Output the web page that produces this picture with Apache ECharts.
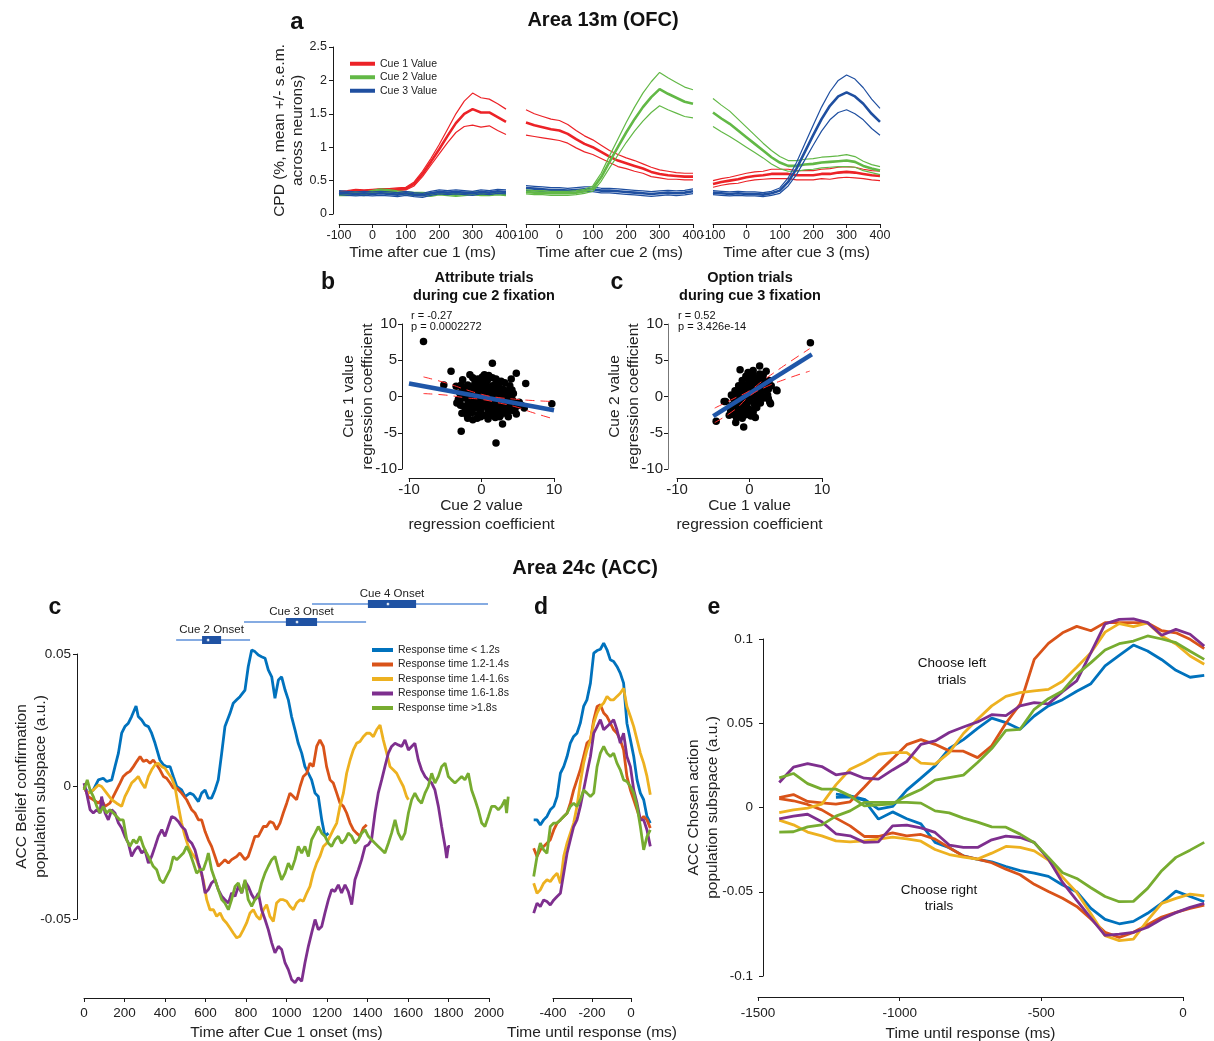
<!DOCTYPE html>
<html><head><meta charset="utf-8">
<script src="https://cdn.jsdelivr.net/npm/echarts@6/dist/echarts.min.js"></script>
<style>html,body{margin:0;padding:0;background:#fff}#chart{width:1214px;height:1041px}</style>
</head><body><div id="chart"></div>
<script>
// ---------------- DATA ----------------
// Panel a: CPD time courses (mean and s.e.m.), time after cue (ms)
const tA = [-100,-75,-50,-25,0,25,50,75,100,125,150,175,200,225,250,275,300,325,350,375,400];
const aXNames = ['Time after cue 1 (ms)','Time after cue 2 (ms)','Time after cue 3 (ms)'];
const cueNamesA = ['Cue 1 Value','Cue 2 Value','Cue 3 Value'];
// subplot 1
const c1m_1 = [0.32,0.33,0.35,0.34,0.35,0.36,0.36,0.37,0.38,0.45,0.60,0.78,0.97,1.17,1.36,1.50,1.57,1.52,1.52,1.45,1.38];
const c1s_1 = [0.02,0.02,0.02,0.02,0.02,0.02,0.02,0.02,0.02,0.03,0.04,0.05,0.07,0.10,0.14,0.19,0.24,0.22,0.20,0.20,0.19];
const c2m_1 = [0.30,0.30,0.31,0.30,0.33,0.35,0.34,0.32,0.31,0.30,0.30,0.29,0.31,0.30,0.29,0.30,0.31,0.30,0.30,0.31,0.30];
const c2s_1 = [0.025,0.025,0.025,0.025,0.025,0.025,0.025,0.025,0.025,0.025,0.025,0.025,0.025,0.025,0.025,0.025,0.025,0.025,0.025,0.025,0.025];
const c3m_1 = [0.32,0.31,0.30,0.31,0.30,0.31,0.30,0.29,0.31,0.29,0.28,0.31,0.33,0.32,0.33,0.32,0.31,0.33,0.32,0.34,0.33];
const c3s_1 = [0.03,0.03,0.03,0.03,0.03,0.03,0.03,0.03,0.03,0.03,0.03,0.03,0.03,0.03,0.03,0.03,0.03,0.03,0.03,0.03,0.03];
// subplot 2
const c1m_2 = [1.37,1.33,1.30,1.27,1.25,1.20,1.12,1.05,1.00,0.93,0.86,0.80,0.76,0.72,0.68,0.63,0.60,0.58,0.57,0.56,0.56];
const c1s_2 = [0.19,0.17,0.16,0.15,0.15,0.14,0.13,0.12,0.11,0.10,0.09,0.09,0.08,0.08,0.07,0.07,0.06,0.06,0.05,0.05,0.05];
const c2m_2 = [0.33,0.32,0.32,0.31,0.31,0.31,0.32,0.34,0.38,0.55,0.78,1.00,1.22,1.42,1.60,1.75,1.87,1.80,1.74,1.68,1.65];
const c2s_2 = [0.03,0.03,0.03,0.03,0.03,0.03,0.03,0.03,0.04,0.06,0.09,0.12,0.15,0.18,0.21,0.23,0.25,0.24,0.23,0.22,0.21];
const c3m_2 = [0.39,0.38,0.37,0.36,0.36,0.35,0.36,0.37,0.37,0.35,0.35,0.34,0.33,0.32,0.31,0.30,0.31,0.32,0.31,0.32,0.34];
const c3s_2 = [0.035,0.035,0.035,0.035,0.035,0.035,0.035,0.035,0.035,0.035,0.035,0.035,0.035,0.035,0.035,0.035,0.035,0.035,0.035,0.035,0.035];
// subplot 3
const c1m_3 = [0.45,0.48,0.50,0.52,0.55,0.57,0.58,0.60,0.60,0.60,0.58,0.58,0.58,0.60,0.60,0.62,0.63,0.62,0.60,0.58,0.57];
const c1s_3 = [0.05,0.05,0.05,0.06,0.06,0.06,0.06,0.07,0.07,0.07,0.07,0.07,0.07,0.07,0.08,0.08,0.08,0.08,0.07,0.07,0.07];
const c2m_3 = [1.52,1.43,1.35,1.25,1.15,1.05,0.95,0.85,0.77,0.72,0.72,0.74,0.75,0.77,0.78,0.79,0.80,0.78,0.72,0.68,0.65];
const c2s_3 = [0.21,0.20,0.19,0.17,0.15,0.13,0.11,0.10,0.09,0.08,0.08,0.08,0.08,0.08,0.08,0.08,0.09,0.08,0.07,0.06,0.06];
const c3m_3 = [0.32,0.31,0.30,0.31,0.30,0.30,0.29,0.31,0.35,0.48,0.68,0.93,1.18,1.42,1.62,1.76,1.82,1.76,1.65,1.50,1.38];
const c3s_3 = [0.03,0.03,0.03,0.03,0.03,0.03,0.03,0.03,0.04,0.06,0.09,0.12,0.15,0.18,0.21,0.24,0.26,0.26,0.24,0.22,0.20];

// Panel b: attribute trials scatter [cue2 coef, cue1 coef]
const bPoints = [[-8,7.6],[1.5,4.6],[-4.2,3.5],[-1.6,3.0],[4.8,3.2],[-5.2,1.6],[-2.6,2.3],[4.1,2.4],[6.1,1.8],[2.7,2.1],[9.7,-1.0],[-2.8,-4.8],[2.0,-6.4],[-1.9,-3.0],[-1.2,-3.2],[2.9,-3.8],[3.7,-2.8],[4.8,-2.4],[2.5,-2.8],[5.9,-1.6],
[-3,0.5],[-3.2,-0.4],[-2.9,-1.2],[-2.6,1.0],[-2.4,-0.2],[-2.2,-1.8],[-2.1,0.6],[-1.9,1.6],[-1.8,-0.8],[-1.6,0.2],[-1.5,-1.4],[-1.4,1.1],[-1.3,-2.2],[-1.1,0.7],[-1.0,-0.5],[-0.9,1.9],[-0.8,-1.6],[-0.7,0.3],[-0.5,2.4],[-0.5,-2.5],[-0.4,1.2],[-0.3,-0.9],[-0.2,0.6],[-0.1,-1.9],[0,1.8],[0,-0.2],[0.1,2.7],[0.2,-1.2],[0.3,0.9],[0.4,-2.6],[0.5,0.1],[0.6,1.6],[0.7,-0.7],[0.8,2.2],[0.9,-1.8],[1.0,0.5],[1.1,-0.3],[1.2,1.3],[1.3,-2.2],[1.4,0.2],[1.5,2.6],[1.6,-1.1],[1.7,0.9],[1.8,-0.5],[1.9,1.7],[2.0,-1.6],[2.1,0.3],[2.2,-2.4],[2.3,1.2],[2.4,-0.9],[2.6,0.6],[2.7,-1.8],[2.8,-0.2],[3.0,1.0],[3.1,-1.2],[3.3,0.2],[3.4,-2.1],[3.5,-0.6],[3.7,0.8],[3.8,-1.4],[4.0,-0.3],[4.2,-1.9],[4.4,0.4],[4.5,-1.0],[-2.0,-2.6],[-0.6,-3.0],[0.9,-3.1],[1.9,-2.9],[-1.2,2.6],[-3.5,1.4],[-2.7,-2.3],[3.2,1.9],[0.4,3.0],[-0.2,0.0],[0.6,-0.4],[1.3,0.8],[-1.0,1.5],[2.0,0.9],[0.2,1.3],[-0.6,-1.1],[1.7,-1.9],[2.6,-2.6],[3.6,-2.5],[4.2,0.9],[-3.4,-0.9],[5.2,-0.8],[4.9,-1.3],[3.9,1.5],[-0.1,-2.8],[1.1,-2.7],
[-2.8,1.6],[-2.3,0.1],[-1.7,-2.0],[-1.2,-0.9],[-0.9,0.2],[-0.4,-1.5],[0.1,0.4],[0.3,-0.6],[0.7,1.1],[0.9,-1.2],[1.2,-0.7],[1.5,1.5],[1.8,0.3],[2.1,-1.1],[2.4,1.8],[2.9,0.4],[3.2,-0.5],[3.6,0.3],[3.9,-0.9],[4.3,-0.5],[-0.3,2.0],[0.5,2.0],[1.0,2.9],[2.0,2.4],[-1.7,1.0],[-2.5,-1.3],[-1.4,-1.0],[0.0,-1.5],[1.5,-1.6],[3.0,-1.8],[-3.0,-0.5],[4.6,-2.0],[5.5,-1.2],[-1.9,0.0]];
const bFit = [[-10,1.8],[10,-1.9]];
const bCiUp = [[-8,2.7],[-5,1.9],[-2,0.9],[0,0.3],[2,-0.1],[5,-0.4],[7,-0.55],[10,-0.7]];
const bCiLo = [[-8,0.4],[-5,0.2],[-2,-0.2],[0,-0.4],[2,-0.8],[5,-1.5],[7,-2.2],[10,-3.1]];
// Panel c (top): option trials scatter [cue1 coef, cue2 coef]
const cPoints = [[8.4,7.4],[-4.6,-3.4],[-0.8,-4.2],[0.8,-2.9],[-1.8,-2.9],[-1.3,3.7],[1.4,4.2],[2.3,3.5],[3.7,0.9],[-3.5,-0.7],[2.8,-0.8],[-1.9,-3.6],[-3.3,-0.7],[3.8,0.8],[2.9,-1.0],
[-2.6,-2.0],[-2.4,-1.2],[-2.2,-0.3],[-2.0,0.8],[-1.9,-1.8],[-1.7,-0.8],[-1.6,0.3],[-1.5,1.5],[-1.4,-2.3],[-1.3,-1.3],[-1.2,-0.2],[-1.1,0.9],[-1.0,2.2],[-0.9,-1.7],[-0.8,-0.6],[-0.7,0.5],[-0.6,1.6],[-0.5,2.8],[-0.5,-2.5],[-0.4,-1.1],[-0.3,0.1],[-0.2,1.1],[-0.1,2.3],[0,-1.8],[0.1,-0.5],[0.2,0.6],[0.3,1.7],[0.4,3.0],[0.5,-2.2],[0.6,-1.0],[0.7,0.2],[0.8,1.3],[0.9,2.5],[1.0,-1.5],[1.1,-0.3],[1.2,0.8],[1.3,1.9],[1.4,3.1],[1.5,-0.9],[1.6,0.3],[1.7,1.4],[1.8,2.5],[2.0,-0.2],[2.1,0.9],[2.2,2.0],[2.4,1.2],[2.5,0.2],[2.7,2.2],[3.0,1.5],[-2.8,-2.6],[-2.1,-2.5],[-1.0,-3.0],[0.2,-2.7],[0.5,3.6],[-0.2,3.3],[1.9,3.0],[-2.5,0.2],[-0.7,-0.1],[0.0,0.9],[0.9,0.0],[-1.5,-0.5],[1.3,-0.6],[2.6,-0.3],
[-2.0,-1.2],[-1.6,-1.5],[-1.0,-0.8],[-0.4,0.4],[0.3,0.0],[0.6,0.9],[1.0,1.8],[1.5,2.0],[1.9,1.0],[2.3,1.6],[-0.9,1.2],[-1.8,0.1],[-0.2,-0.5],[0.8,-1.6],[1.2,0.2],[-1.2,-2.6],[-2.3,-2.2],[0.4,2.3],[-0.6,-1.9],[2.6,1.0]];
const cFit = [[-5,-2.7],[8.6,5.8]];
const cCiUp = [[-4.8,-1.6],[-2,-0.2],[0,0.8],[2,2.3],[5,4.4],[8.3,6.6]];
const cCiLo = [[-4.8,-3.6],[-2,-1.8],[0,0.05],[2,1.2],[5,2.4],[8.3,3.5]];

// Panel c (bottom): cue onset distributions (ms)
const onsetNames = ['Cue 2 Onset','Cue 3 Onset','Cue 4 Onset'];
const onsetMin = [455, 790, 1126];
const onsetQ1  = [583, 997, 1402];
const onsetMed = [613, 1052, 1501];
const onsetQ3  = [677, 1151, 1640];
const onsetMax = [820, 1393, 1995];
const onsetRow = [0.5, 1.5, 2.5];

const rtNames = ['Response time < 1.2s','Response time 1.2-1.4s','Response time 1.4-1.6s','Response time 1.6-1.8s','Response time >1.8s'];
const rtColors = ['#0072BD','#D95319','#EDB120','#7E2F8E','#77AC30'];

// Panel c (bottom): belief confirmation, [ms after cue 1, value]
const cBlue = [[0,0],[21,-0.0025],[46,-0.0013],[71,0.0025],[95,0.0031],[112,0.0019],[137,0.0025],[153,0.0075],[170,0.0126],[186,0.0201],[202,0.0226],[219,0.0239],[235,0.0264],[257,0.0304],[268,0.0264],[285,0.0251],[301,0.0232],[318,0.0226],[334,0.0201],[351,0.0163],[375,0.0100],[392,0.0082],[408,0.0075],[425,0.0075],[441,0.0038],[458,0],[482,-0.0013],[499,-0.0038],[523,-0.0025],[540,-0.0031],[565,-0.0057],[581,-0.0025],[598,-0.0013],[614,-0.0044],[630,-0.0044],[647,-0.0013],[663,0.0025],[680,0.0126],[696,0.0226],[721,0.0276],[737,0.0314],[754,0.0327],[770,0.0339],[795,0.0364],[811,0.0452],[828,0.0515],[844,0.0509],[861,0.0496],[877,0.0490],[894,0.0484],[910,0.0440],[927,0.0414],[943,0.0333],[960,0.0402],[976,0.0414],[993,0.0364],[1009,0.0327],[1025,0.0264],[1042,0.0214],[1058,0.0163],[1075,0.0126],[1091,0.0075],[1108,0.0050],[1124,0.0025],[1141,-0.0025],[1157,-0.0038],[1174,-0.0126],[1190,-0.0188],[1207,-0.0176]];
const cOrange = [[0,0],[21,-0.0038],[46,-0.0050],[71,-0.0063],[87,-0.0050],[104,-0.0075],[128,-0.0063],[153,-0.0025],[178,0.0013],[194,0.0038],[211,0.0050],[227,0.0057],[244,0.0075],[260,0.0094],[277,0.0113],[293,0.0094],[309,0.0100],[326,0.0088],[342,0.0100],[359,0.0082],[375,0.0063],[392,0.0038],[408,0.0031],[425,0.0013],[441,-0.0006],[458,-0.0006],[482,-0.0025],[507,-0.0050],[532,-0.0088],[548,-0.0100],[565,-0.0126],[581,-0.0126],[598,-0.0170],[614,-0.0201],[630,-0.0226],[647,-0.0264],[663,-0.0301],[680,-0.0289],[696,-0.0276],[713,-0.0289],[729,-0.0276],[754,-0.0264],[770,-0.0251],[795,-0.0276],[811,-0.0264],[828,-0.0226],[844,-0.0188],[861,-0.0188],[886,-0.0151],[902,-0.0151],[918,-0.0132],[935,-0.0138],[951,-0.0163],[968,-0.0138],[984,-0.0100],[1001,-0.0063],[1017,-0.0025],[1034,-0.0038],[1050,-0.0050],[1067,0],[1083,0.0038],[1100,0.0050],[1116,0.0088],[1132,0.0075],[1149,0.0151],[1165,0.0176],[1182,0.0151],[1198,0.0075],[1215,0.0025],[1231,0.0013],[1248,-0.0025],[1264,-0.0063],[1281,-0.0075],[1297,-0.0100],[1314,-0.0138],[1330,-0.0163],[1346,-0.0176],[1363,-0.0188],[1379,-0.0157],[1396,-0.0144]];
const cYellow = [[0,-0.0006],[21,-0.0025],[46,-0.0013],[71,0.0006],[87,0],[112,-0.0025],[137,-0.0050],[161,-0.0063],[186,-0.0075],[202,-0.0038],[219,-0.0013],[235,0.0013],[252,0.0025],[268,0.0038],[285,0.0013],[301,-0.0006],[318,0.0038],[334,0.0063],[351,0.0082],[367,0.0088],[384,0.0075],[400,0.0069],[416,0.0050],[433,0.0031],[449,0],[466,-0.0075],[482,-0.0138],[499,-0.0188],[515,-0.0226],[532,-0.0251],[556,-0.0276],[573,-0.0314],[589,-0.0352],[606,-0.0427],[622,-0.0465],[639,-0.0465],[655,-0.0490],[672,-0.0477],[688,-0.0502],[704,-0.0515],[721,-0.0534],[737,-0.0553],[754,-0.0571],[770,-0.0565],[787,-0.0540],[803,-0.0515],[820,-0.0477],[836,-0.0465],[853,-0.0490],[869,-0.0502],[886,-0.0465],[902,-0.0446],[918,-0.0490],[935,-0.0509],[951,-0.0440],[968,-0.0427],[984,-0.0427],[1001,-0.0433],[1017,-0.0452],[1034,-0.0465],[1050,-0.0440],[1067,-0.0427],[1083,-0.0433],[1100,-0.0402],[1116,-0.0377],[1132,-0.0327],[1149,-0.0289],[1165,-0.0264],[1182,-0.0226],[1198,-0.0214],[1215,-0.0188],[1231,-0.0163],[1248,-0.0138],[1264,-0.0075],[1281,-0.0025],[1297,0.0050],[1314,0.0100],[1330,0.0138],[1346,0.0163],[1363,0.0170],[1379,0.0188],[1396,0.0201],[1412,0.0201],[1429,0.0188],[1445,0.0214],[1462,0.0232],[1478,0.0176],[1495,0.0126],[1511,0.0075],[1527,0.0063],[1544,0.0050],[1560,0.0025],[1577,0],[1593,-0.0038],[1602,-0.0050]];
const cPurple = [[0,0.0013],[13,-0.0025],[30,-0.0088],[46,-0.0100],[63,-0.0088],[79,-0.0100],[87,-0.0038],[104,-0.0100],[120,-0.0126],[137,-0.0088],[153,-0.0100],[170,-0.0138],[186,-0.0157],[202,-0.0188],[219,-0.0214],[235,-0.0264],[252,-0.0239],[268,-0.0226],[285,-0.0251],[301,-0.0239],[318,-0.0289],[334,-0.0264],[351,-0.0226],[367,-0.0188],[384,-0.0163],[400,-0.0188],[416,-0.0151],[433,-0.0113],[449,-0.0119],[466,-0.0132],[482,-0.0151],[499,-0.0163],[515,-0.0201],[532,-0.0214],[548,-0.0239],[565,-0.0289],[581,-0.0327],[598,-0.0402],[614,-0.0389],[630,-0.0364],[647,-0.0352],[663,-0.0389],[680,-0.0414],[696,-0.0427],[713,-0.0440],[729,-0.0402],[746,-0.0414],[762,-0.0377],[779,-0.0402],[795,-0.0358],[811,-0.0377],[828,-0.0408],[844,-0.0427],[861,-0.0402],[877,-0.0465],[894,-0.0502],[910,-0.0540],[927,-0.0590],[943,-0.0628],[960,-0.0603],[976,-0.0615],[993,-0.0666],[1009,-0.0691],[1025,-0.0728],[1042,-0.0741],[1058,-0.0722],[1075,-0.0735],[1091,-0.0666],[1108,-0.0603],[1124,-0.0553],[1141,-0.0502],[1157,-0.0540],[1174,-0.0528],[1190,-0.0477],[1207,-0.0427],[1223,-0.0389],[1239,-0.0396],[1256,-0.0371],[1272,-0.0402],[1289,-0.0371],[1305,-0.0396],[1322,-0.0446],[1338,-0.0352],[1355,-0.0314],[1371,-0.0276],[1388,-0.0226],[1404,-0.0220],[1420,-0.0201],[1437,-0.0100],[1453,-0.0025],[1470,0.0025],[1486,0.0075],[1503,0.0126],[1519,0.0151],[1536,0.0163],[1552,0.0157],[1569,0.0151],[1585,0.0176],[1602,0.0138],[1618,0.0151],[1634,0.0163],[1651,0.0100],[1667,0.0063],[1684,0.0038],[1700,0.0025],[1717,0.0013],[1733,-0.0013],[1750,-0.0075],[1766,-0.0151],[1783,-0.0226],[1791,-0.0270],[1799,-0.0226],[1807,-0.0226]];
const cGreen = [[0,-0.0013],[16,0.0025],[30,-0.0013],[46,-0.0038],[63,-0.0075],[79,-0.0100],[95,-0.0075],[112,-0.0100],[128,-0.0088],[145,-0.0100],[161,-0.0113],[178,-0.0126],[194,-0.0126],[211,-0.0201],[227,-0.0226],[244,-0.0201],[260,-0.0214],[277,-0.0188],[293,-0.0226],[309,-0.0251],[326,-0.0276],[342,-0.0301],[359,-0.0314],[375,-0.0352],[392,-0.0364],[408,-0.0339],[425,-0.0314],[441,-0.0264],[458,-0.0276],[474,-0.0264],[491,-0.0251],[507,-0.0226],[523,-0.0251],[540,-0.0289],[556,-0.0327],[573,-0.0314],[589,-0.0314],[606,-0.0276],[614,-0.0251],[630,-0.0314],[647,-0.0352],[663,-0.0389],[680,-0.0427],[696,-0.0440],[713,-0.0465],[729,-0.0427],[746,-0.0377],[762,-0.0364],[779,-0.0402],[795,-0.0352],[811,-0.0427],[828,-0.0452],[844,-0.0427],[861,-0.0414],[877,-0.0364],[894,-0.0327],[910,-0.0301],[927,-0.0276],[943,-0.0264],[960,-0.0314],[976,-0.0352],[993,-0.0327],[1009,-0.0289],[1025,-0.0314],[1042,-0.0276],[1058,-0.0226],[1075,-0.0251],[1091,-0.0226],[1108,-0.0264],[1124,-0.0201],[1141,-0.0176],[1157,-0.0151],[1174,-0.0176],[1190,-0.0188],[1207,-0.0214],[1223,-0.0226],[1239,-0.0201],[1256,-0.0188],[1272,-0.0214],[1289,-0.0201],[1305,-0.0176],[1322,-0.0188],[1338,-0.0214],[1355,-0.0201],[1371,-0.0176],[1388,-0.0163],[1404,-0.0188],[1420,-0.0201],[1437,-0.0214],[1453,-0.0226],[1470,-0.0239],[1486,-0.0251],[1503,-0.0214],[1519,-0.0176],[1536,-0.0126],[1552,-0.0176],[1569,-0.0201],[1585,-0.0176],[1602,-0.0100],[1618,-0.0050],[1634,-0.0025],[1651,-0.0050],[1667,-0.0063],[1684,-0.0025],[1700,0],[1717,0.0050],[1733,0.0013],[1750,0.0038],[1766,0.0075],[1783,0.0088],[1799,0.0038],[1815,0.0025],[1832,0.0013],[1848,0.0025],[1865,0.0038],[1881,0.0025],[1898,0.0050],[1914,-0.0013],[1931,-0.0050],[1947,-0.0088],[1964,-0.0138],[1980,-0.0151],[1997,-0.0113],[2013,-0.0075],[2030,-0.0075],[2046,-0.0088],[2062,-0.0075],[2079,-0.0050],[2087,-0.0100],[2095,-0.0038]];

// Panel d: time until response (ms)
const tD = [-499,-482,-465,-448,-431,-414,-396,-379,-362,-345,-328,-311,-294,-277,-260,-243,-226,-208,-191,-174,-157,-140,-123,-106,-89,-72,-55,-38,-21,-3,14,31,48,65,82,99];
const dBlue = [-0.0126,-0.0126,-0.0145,-0.0126,-0.0113,-0.0088,-0.0075,-0.0038,0.0050,0.0075,0.0113,0.0164,0.0189,0.0201,0.0239,0.0302,0.0327,0.0390,0.0503,0.0513,0.0518,0.0541,0.0516,0.0478,0.0472,0.0453,0.0428,0.0390,0.0239,0.0176,0.0113,0.0025,-0.0025,-0.0050,-0.0113,-0.0138];
const dOrange = [-0.0233,-0.0264,-0.0239,-0.0226,-0.0214,-0.0201,-0.0164,-0.0138,-0.0126,-0.0113,-0.0101,-0.0063,-0.0013,0.0025,0.0063,0.0113,0.0164,0.0176,0.0252,0.0302,0.0308,0.0277,0.0264,0.0239,0.0214,0.0201,0.0176,0.0138,0.0038,-0.0013,-0.0050,-0.0088,-0.0126,-0.0113,-0.0126,-0.0157];
const dYellow = [-0.0365,-0.0403,-0.0390,-0.0365,-0.0352,-0.0359,-0.0340,-0.0327,-0.0365,-0.0264,-0.0214,-0.0176,-0.0138,-0.0075,0.0013,0.0088,0.0138,0.0176,0.0239,0.0277,0.0302,0.0315,0.0340,0.0327,0.0327,0.0340,0.0352,0.0371,0.0302,0.0264,0.0226,0.0176,0.0126,0.0088,0.0038,-0.0031];
const dPurple = [-0.0478,-0.0440,-0.0453,-0.0428,-0.0434,-0.0447,-0.0428,-0.0415,-0.0403,-0.0327,-0.0252,-0.0201,-0.0151,-0.0126,-0.0075,-0.0013,0.0050,0.0113,0.0201,0.0226,0.0252,0.0214,0.0226,0.0239,0.0252,0.0214,0.0164,0.0201,0.0113,0.0075,-0.0013,-0.0063,-0.0126,-0.0126,-0.0164,-0.0226];
const dGreen = [-0.0340,-0.0264,-0.0214,-0.0239,-0.0252,-0.0151,-0.0138,-0.0138,-0.0126,-0.0113,-0.0101,-0.0075,-0.0063,-0.0075,-0.0050,-0.0013,-0.0025,-0.0038,-0.0025,0.0075,0.0126,0.0151,0.0126,0.0113,0.0126,0.0088,0.0063,0.0025,0.0019,0,-0.0025,-0.0075,-0.0151,-0.0239,-0.0189,-0.0164];

// Panel e: chosen action, time until response (ms)
const tE = [-1425,-1375,-1325,-1275,-1225,-1175,-1125,-1075,-1025,-975,-925,-875,-825,-775,-725,-675,-625,-575,-525,-475,-425,-375,-325,-275,-225,-175,-125,-75,-25,25,75];
const eLeftBlue = [null,null,null,null,0.0079,0.0069,0.0049,-0.0010,0.0006,0.0103,0.0174,0.0247,0.0350,0.0403,0.0470,0.0530,0.0504,0.0464,0.0543,0.0603,0.0640,0.0690,0.0735,0.0840,0.0903,0.0964,0.0929,0.0877,0.0814,0.0773,0.0784];
const eLeftOrange = [0.0059,0.0077,0.0036,0.0028,0.0020,0.0034,0.0120,0.0210,0.0290,0.0373,0.0403,0.0375,0.0336,0.0334,0.0296,0.0366,0.0500,0.0613,0.0879,0.0974,0.1037,0.1075,0.1049,0.1097,0.1097,0.1097,0.1095,0.1049,0.1037,0.0998,0.0943];
const eLeftYellow = [-0.0030,-0.0014,-0.0004,0.0020,0.0134,0.0227,0.0267,0.0316,0.0326,0.0326,0.0263,0.0257,0.0326,0.0439,0.0524,0.0603,0.0660,0.0682,0.0692,0.0701,0.0749,0.0832,0.0919,0.1041,0.1091,0.1073,0.1095,0.1018,0.0970,0.0899,0.0850];
const eLeftPurple = [0.0148,0.0239,0.0261,0.0243,0.0194,0.0207,0.0174,0.0168,0.0223,0.0273,0.0375,0.0395,0.0445,0.0478,0.0508,0.0551,0.0545,0.0603,0.0622,0.0615,0.0688,0.0751,0.0919,0.1090,0.1116,0.1120,0.1097,0.1022,0.1057,0.1028,0.0958];
const eLeftGreen = [0.0176,0.0202,0.0142,0.0109,0.0109,0.0069,0.0010,0.0016,0.0022,0.0069,0.0107,0.0162,0.0178,0.0192,0.0267,0.0350,0.0458,0.0464,0.0583,0.0646,0.0692,0.0790,0.0860,0.0935,0.0972,0.0988,0.1018,0.1000,0.0978,0.0927,0.0879];
const eRightBlue = [null,null,null,null,0.0060,0.0063,0.0043,-0.0069,-0.0026,-0.0067,-0.0097,-0.0207,-0.0239,-0.0287,-0.0308,-0.0322,-0.0350,-0.0375,-0.0389,-0.0409,-0.0460,-0.0500,-0.0599,-0.0664,-0.0690,-0.0676,-0.0628,-0.0567,-0.0496,-0.0528,-0.0559];
const eRightOrange = [0.0053,0.0040,0.0018,-0.0014,-0.0063,-0.0109,-0.0172,-0.0172,-0.0150,-0.0168,-0.0160,-0.0188,-0.0239,-0.0288,-0.0306,-0.0328,-0.0366,-0.0399,-0.0456,-0.0498,-0.0539,-0.0587,-0.0662,-0.0741,-0.0771,-0.0741,-0.0696,-0.0650,-0.0622,-0.0599,-0.0579];
const eRightYellow = [-0.0075,-0.0103,-0.0146,-0.0168,-0.0198,-0.0204,-0.0198,-0.0188,-0.0176,-0.0186,-0.0200,-0.0249,-0.0279,-0.0294,-0.0306,-0.0271,-0.0231,-0.0237,-0.0257,-0.0312,-0.0413,-0.0504,-0.0630,-0.0761,-0.0790,-0.0781,-0.0670,-0.0569,-0.0539,-0.0514,-0.0524];
const eRightPurple = [-0.0067,-0.0051,-0.0040,-0.0085,-0.0156,-0.0168,-0.0207,-0.0204,-0.0109,-0.0105,-0.0121,-0.0148,-0.0223,-0.0237,-0.0237,-0.0192,-0.0170,-0.0178,-0.0207,-0.0306,-0.0445,-0.0551,-0.0656,-0.0759,-0.0751,-0.0741,-0.0711,-0.0662,-0.0624,-0.0593,-0.0569];
const eRightGreen = [-0.0146,-0.0144,-0.0115,-0.0103,-0.0051,-0.0020,0.0030,0.0030,0.0030,0.0030,0.0026,-0.0020,-0.0032,-0.0063,-0.0087,-0.0115,-0.0117,-0.0158,-0.0209,-0.0296,-0.0387,-0.0421,-0.0476,-0.0528,-0.0559,-0.0557,-0.0480,-0.0375,-0.0296,-0.0253,-0.0207];

// ---------------- CHART ----------------
const FONT = "'Liberation Sans', Arial, Helvetica, sans-serif";
const INK = '#1a1a1a';
const plain = v => String(Math.round(v * 10000) / 10000);

function ax(o) {
  const base = {
    type: 'value',
    axisLine: { show: true, onZero: false, lineStyle: { color: INK, width: 1 } },
    axisTick: { show: true, inside: false, length: 4, lineStyle: { color: INK } },
    axisLabel: { color: '#222', fontFamily: FONT, fontSize: 13, showMinLabel: true, showMaxLabel: true, hideOverlap: false, formatter: plain },
    splitLine: { show: false },
    nameLocation: 'middle',
    nameMoveOverlap: false,
    nameTextStyle: { color: '#222', fontFamily: FONT, fontSize: 15.5, lineHeight: 19 }
  };
  const out = Object.assign({}, base, o);
  out.axisLabel = Object.assign({}, base.axisLabel, o.axisLabel || {});
  out.nameTextStyle = Object.assign({}, base.nameTextStyle, o.nameTextStyle || {});
  out.axisLine = Object.assign({}, base.axisLine, o.axisLine || {});
  return out;
}
function hidden(o) { return Object.assign({ type: 'value', show: false, splitLine: { show: false } }, o); }

const g = (left, top, width, height) => ({ left, top, width, height, containLabel: false, outerBoundsMode: 'none' });
// visible-axis grids and wider data grids share identical scales
const grids = [
  g(339, 47, 167, 167), g(526, 47, 167, 167), g(713, 47, 167, 167),   // 0-2 panel a
  g(409, 324, 145, 145), g(677, 324, 145, 145),                        // 3-4 scatters
  g(84, 595, 405, 54),                                                 // 5 onset boxes
  g(84, 654, 405, 265),                                                // 6 panel c axes (0..2000, -0.05..0.05)
  g(553, 654, 78, 265),                                                // 7 panel d axes (-400..0)
  g(758, 639, 425, 337),                                               // 8 panel e axes (-1500..0)
  g(84, 627.5, 425.25, 371),                                           // 9 panel c data (0..2100, -0.08..0.06)
  g(533.5, 627.5, 117, 371),                                           // 10 panel d data (-500..100)
  g(758, 639, 453.33, 337)                                             // 11 panel e data (-1500..100)
];

const xAxes = [
  ax({ gridIndex: 0, min: -100, max: 400, interval: 100, offset: 10, name: aXNames[0], nameGap: 19, axisLabel: { fontSize: 12.5, margin: 5 } }),
  ax({ gridIndex: 1, min: -100, max: 400, interval: 100, offset: 10, name: aXNames[1], nameGap: 19, axisLabel: { fontSize: 12.5, margin: 5 } }),
  ax({ gridIndex: 2, min: -100, max: 400, interval: 100, offset: 10, name: aXNames[2], nameGap: 19, axisLabel: { fontSize: 12.5, margin: 5 } }),
  ax({ gridIndex: 3, min: -10, max: 10, interval: 10, offset: 9, name: 'Cue 2 value\nregression coefficient', nameGap: 18, axisLabel: { fontSize: 15, margin: 4 } }),
  ax({ gridIndex: 4, min: -10, max: 10, interval: 10, offset: 9, name: 'Cue 1 value\nregression coefficient', nameGap: 18, axisLabel: { fontSize: 15, margin: 4 } }),
  hidden({ gridIndex: 5, min: 0, max: 2000 }),
  ax({ gridIndex: 6, min: 0, max: 2000, interval: 200, offset: 79, name: 'Time after Cue 1 onset (ms)', nameGap: 25, axisLabel: { fontSize: 13.5, margin: 8 } }),
  ax({ gridIndex: 7, min: -400, max: 0, interval: 200, offset: 79, name: 'Time until response (ms)', nameGap: 25, axisLabel: { fontSize: 13.5, margin: 8 } }),
  ax({ gridIndex: 8, min: -1500, max: 0, interval: 500, offset: 21, name: 'Time until response (ms)', nameGap: 27, axisLabel: { fontSize: 13.5, margin: 9 } }),
  hidden({ gridIndex: 9, min: 0, max: 2100 }),
  hidden({ gridIndex: 10, min: -500, max: 100 }),
  hidden({ gridIndex: 11, min: -1500, max: 100 })
];
const yAxes = [
  ax({ gridIndex: 0, min: 0, max: 2.5, interval: 0.5, offset: 6, name: 'CPD (%, mean +/- s.e.m.\nacross neurons)', nameRotate: 90, nameGap: 26, nameTextStyle: { lineHeight: 18 }, axisLabel: { fontSize: 12.5, margin: 6 } }),
  hidden({ gridIndex: 1, min: 0, max: 2.5 }),
  hidden({ gridIndex: 2, min: 0, max: 2.5 }),
  ax({ gridIndex: 3, min: -10, max: 10, interval: 5, offset: 7, name: 'Cue 1 value\nregression coefficient', nameRotate: 90, nameGap: 25, axisLabel: { fontSize: 15, margin: 5 } }),
  ax({ gridIndex: 4, min: -10, max: 10, interval: 5, offset: 9, name: 'Cue 2 value\nregression coefficient', nameRotate: 90, nameGap: 25, axisLine: { lineStyle: { color: '#777', width: 1 } }, axisLabel: { fontSize: 15, margin: 5 } }),
  hidden({ gridIndex: 5, min: 0, max: 3 }),
  ax({ gridIndex: 6, min: -0.05, max: 0.05, interval: 0.05, offset: 7, name: 'ACC Belief confirmation\npopulation subspace (a.u.)', nameRotate: 90, nameGap: 27, axisLabel: { fontSize: 13.5, margin: 6 } }),
  hidden({ gridIndex: 7, min: -0.05, max: 0.05 }),
  ax({ gridIndex: 8, min: -0.1, max: 0.1, interval: 0.05, offset: -5, name: 'ACC Chosen action\npopulation subspace (a.u.)', nameRotate: 90, nameGap: 41, axisLabel: { fontSize: 13.5, margin: 10 } }),
  hidden({ gridIndex: 9, min: -0.08, max: 0.06 }),
  hidden({ gridIndex: 10, min: -0.08, max: 0.06 }),
  hidden({ gridIndex: 11, min: -0.1, max: 0.1 })
];

const series = [];
const aColors = ['#EC2227', '#62B846', '#1F4FA0'];
function band(idx, mean, sem, name, color) {
  const common = { type: 'line', xAxisIndex: idx, yAxisIndex: idx, name, showSymbol: false, symbol: 'none', smooth: false, animation: false, silent: true };
  series.push(Object.assign({}, common, { data: tA.map((t, i) => [t, mean[i] + sem[i]]), lineStyle: { color, width: 1.2 }, itemStyle: { color } }));
  series.push(Object.assign({}, common, { data: tA.map((t, i) => [t, mean[i] - sem[i]]), lineStyle: { color, width: 1.2 }, itemStyle: { color } }));
  series.push(Object.assign({}, common, { data: tA.map((t, i) => [t, mean[i]]), lineStyle: { color, width: 2.6 }, itemStyle: { color } }));
}
band(0, c1m_1, c1s_1, cueNamesA[0], aColors[0]);
band(0, c2m_1, c2s_1, cueNamesA[1], aColors[1]);
band(0, c3m_1, c3s_1, cueNamesA[2], aColors[2]);
band(1, c1m_2, c1s_2, cueNamesA[0], aColors[0]);
band(1, c3m_2, c3s_2, cueNamesA[2], aColors[2]);
band(1, c2m_2, c2s_2, cueNamesA[1], aColors[1]);
band(2, c1m_3, c1s_3, cueNamesA[0], aColors[0]);
band(2, c2m_3, c2s_3, cueNamesA[1], aColors[1]);
band(2, c3m_3, c3s_3, cueNamesA[2], aColors[2]);

function scatterPanel(idx, pts, fit, up, lo) {
  series.push({ type: 'scatter', xAxisIndex: idx, yAxisIndex: idx, data: pts, symbolSize: 7.5, itemStyle: { color: '#000', opacity: 1 }, silent: true });
  series.push({ type: 'line', xAxisIndex: idx, yAxisIndex: idx, data: fit, showSymbol: false, symbol: 'none', lineStyle: { color: '#1F56A8', width: 4.5 }, silent: true });
  series.push({ type: 'line', xAxisIndex: idx, yAxisIndex: idx, data: up, showSymbol: false, symbol: 'none', smooth: true, lineStyle: { color: '#FF2A2A', width: 1, type: [9, 6] }, silent: true });
  series.push({ type: 'line', xAxisIndex: idx, yAxisIndex: idx, data: lo, showSymbol: false, symbol: 'none', smooth: true, lineStyle: { color: '#FF2A2A', width: 1, type: [9, 6] }, silent: true });
}
scatterPanel(3, bPoints, bFit, bCiUp, bCiLo);
scatterPanel(4, cPoints, cFit, cCiUp, cCiLo);

// cue onset box plots
series.push({
  type: 'custom', xAxisIndex: 5, yAxisIndex: 5, silent: true, clip: false,
  data: onsetNames.map((n, i) => [onsetMin[i], onsetQ1[i], onsetMed[i], onsetQ3[i], onsetMax[i], onsetRow[i]]),
  renderItem: function (params, api) {
    const y = api.value(5);
    const pMin = api.coord([api.value(0), y]);
    const pQ1 = api.coord([api.value(1), y]);
    const pMed = api.coord([api.value(2), y]);
    const pQ3 = api.coord([api.value(3), y]);
    const pMax = api.coord([api.value(4), y]);
    return {
      type: 'group',
      children: [
        { type: 'line', shape: { x1: pMin[0], y1: pMin[1], x2: pMax[0], y2: pMax[1] }, style: { stroke: '#5C8FD8', lineWidth: 1.5 } },
        { type: 'rect', shape: { x: pQ1[0], y: pQ1[1] - 4, width: pQ3[0] - pQ1[0], height: 8 }, style: { fill: '#1F52A3' } },
        { type: 'circle', shape: { cx: pMed[0], cy: pMed[1], r: 1.5 }, style: { fill: '#fff', stroke: '#1F52A3', lineWidth: 0.5 } },
        { type: 'text', x: (pQ1[0] + pQ3[0]) / 2, y: pMin[1] - 10, style: { text: onsetNames[params.dataIndex], font: '11.5px ' + FONT, fill: '#222', align: 'center', verticalAlign: 'middle', textAlign: 'center', textVerticalAlign: 'middle' } }
      ]
    };
  }
});

function rtLine(idx, name, color, data) {
  series.push({ type: 'line', xAxisIndex: idx, yAxisIndex: idx, name, data, showSymbol: false, symbol: 'none', smooth: false, clip: false, lineStyle: { color, width: 2.8 }, itemStyle: { color }, silent: true });
}
const cSeries = [cBlue, cOrange, cYellow, cPurple, cGreen];
cSeries.forEach((d, k) => rtLine(9, rtNames[k], rtColors[k], d));
const dSeries = [dBlue, dOrange, dYellow, dPurple, dGreen];
dSeries.forEach((d, k) => rtLine(10, rtNames[k], rtColors[k], tD.map((t, i) => [t, d[i]])));
const eLeft = [eLeftBlue, eLeftOrange, eLeftYellow, eLeftPurple, eLeftGreen];
const eRight = [eRightBlue, eRightOrange, eRightYellow, eRightPurple, eRightGreen];
[0, 1, 2, 3, 4].forEach(k => {
  rtLine(11, rtNames[k], rtColors[k], tE.map((t, i) => [t, eLeft[k][i]]).filter(p => p[1] !== null));
  rtLine(11, rtNames[k], rtColors[k], tE.map((t, i) => [t, eRight[k][i]]).filter(p => p[1] !== null));
});

function txt(x, y, text, size, bold, align) {
  return { type: 'text', x, y, silent: true, style: { text, font: (bold ? 'bold ' : '') + size + 'px ' + FONT, fill: '#111', align: align || 'center', verticalAlign: 'middle', textAlign: align || 'center', textVerticalAlign: 'middle' } };
}
const graphics = [
  txt(297, 22, 'a', 24, true),
  txt(603, 20, 'Area 13m (OFC)', 20, true),
  txt(328, 283, 'b', 23, true),
  txt(484, 278, 'Attribute trials', 14.5, true),
  txt(484, 296, 'during cue 2 fixation', 14.5, true),
  txt(617, 283, 'c', 23, true),
  txt(750, 278, 'Option trials', 14.5, true),
  txt(750, 296, 'during cue 3 fixation', 14.5, true),
  txt(411, 316, 'r = -0.27', 11, false, 'left'),
  txt(411, 326.5, 'p = 0.0002272', 11, false, 'left'),
  txt(678, 316, 'r = 0.52', 11, false, 'left'),
  txt(678, 326.5, 'p = 3.426e-14', 11, false, 'left'),
  txt(585, 568, 'Area 24c (ACC)', 20, true),
  txt(55, 608, 'c', 23, true),
  txt(541, 608, 'd', 23, true),
  txt(714, 608, 'e', 23, true),
  txt(952, 663, 'Choose left', 13.5, false),
  txt(952, 680, 'trials', 13.5, false),
  txt(939, 890, 'Choose right', 13.5, false),
  txt(939, 906, 'trials', 13.5, false)
];

const option = {
  animation: false,
  backgroundColor: '#fff',
  textStyle: { fontFamily: FONT },
  grid: grids,
  xAxis: xAxes,
  yAxis: yAxes,
  legend: [
    { data: cueNamesA, orient: 'vertical', left: 350, top: 58, itemWidth: 25, itemHeight: 4, itemGap: 2, icon: 'rect', selectedMode: false, padding: 0, textStyle: { fontSize: 10.5, lineHeight: 11.5, color: '#222', fontFamily: FONT } },
    { data: rtNames, orient: 'vertical', left: 372, top: 644, itemWidth: 21, itemHeight: 4, itemGap: 2.5, icon: 'rect', selectedMode: false, padding: 0, textStyle: { fontSize: 10.5, lineHeight: 12, color: '#222', fontFamily: FONT } }
  ],
  graphic: graphics,
  series
};
const chart = echarts.init(document.getElementById('chart'), null, { renderer: 'canvas' });
chart.setOption(option);
</script></body></html>
